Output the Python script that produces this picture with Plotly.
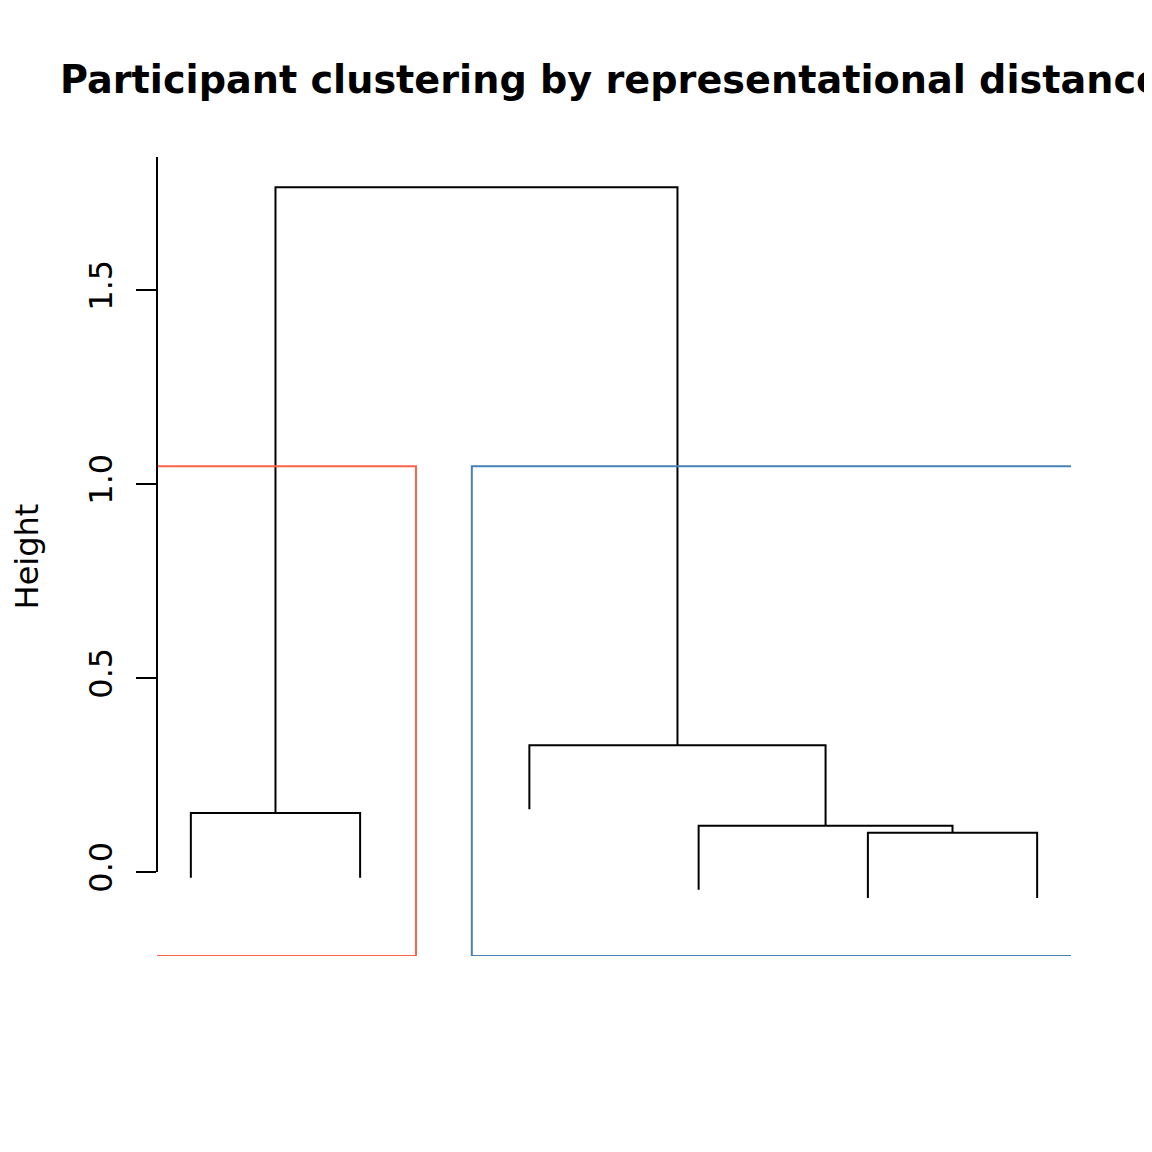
import plotly.graph_objects as go

# dendrogram (hclust style merge table)
leaf_ids = [1, 2, 3, 4, 5, 6]
leaf_bottoms = [-0.015, -0.015, 0.162, -0.046, -0.067, -0.067]
merge_left = [-1, -5, -4, -3, 1]
merge_right = [-2, -6, 2, 3, 4]
merge_height = [0.152, 0.101, 0.119, 0.327, 1.765]

# k = 2 clusters drawn as boxes
cluster_leaves = [[1, 2], [3, 4, 5, 6]]
cluster_colors = ["#FF6347", "#4682B4"]

y_ticks = [0.0, 0.5, 1.0, 1.5]
y_tick_text = ["0.0", "0.5", "1.0", "1.5"]

y_lo, y_hi = -0.2165, 1.843

node_x = {}
node_y = {}
for i, b in zip(leaf_ids, leaf_bottoms):
    node_x[-i] = i
    node_y[-i] = b

fig = go.Figure()

for k, (a, b, h) in enumerate(zip(merge_left, merge_right, merge_height), start=1):
    xa, xb = node_x[a], node_x[b]
    fig.add_trace(go.Scatter(
        x=[xa, xa, xb, xb], y=[node_y[a], h, h, node_y[b]],
        mode="lines", line=dict(color="black", width=2),
        hoverinfo="skip", showlegend=False))
    node_x[k] = (xa + xb) / 2
    node_y[k] = h

# cut height between the last two merges
hs = sorted(merge_height)
cut = (hs[-1] + hs[-2]) / 2
for leaves, col in zip(cluster_leaves, cluster_colors):
    x0 = min(leaves) - 0.34
    x1 = max(leaves) + 0.33
    fig.add_trace(go.Scatter(
        x=[x0, x1, x1, x0, x0], y=[y_lo, y_lo, cut, cut, y_lo],
        mode="lines", line=dict(color=col, width=2),
        hoverinfo="skip", showlegend=False))

# y axis line only spans from 0 to the top like base R
fig.add_shape(type="line", xref="paper", x0=0, x1=0, yref="y", y0=0, y1=y_hi,
              line=dict(color="black", width=2))

# page body adds 8px, so margins are 8px smaller on the left/top
fig.update_layout(
    width=1152, height=1152,
    margin=dict(l=149, r=89, t=149, b=204),
    plot_bgcolor="white", paper_bgcolor="white",
    font=dict(family="DejaVu Sans", color="black"),
    title=dict(text="<b>Participant clustering by representational distance</b>",
               x=0.5 - 3 / 914, xref="paper", xanchor="center",
               y=1 - 72 / 1152, yref="container", yanchor="middle",
               font=dict(size=38.2, family="DejaVu Sans", color="black")),
    xaxis=dict(visible=False, range=[0.8, 6.2]),
    yaxis=dict(range=[y_lo, y_hi], tickvals=y_ticks, ticktext=y_tick_text,
               tickangle=-90, tickfont=dict(size=32), ticks="outside",
               ticklen=20, tickwidth=2, tickcolor="black", ticklabelstandoff=11,
               showline=False, showgrid=False, zeroline=False,
               automargin=False,
               title=dict(text="Height", font=dict(size=32), standoff=38)),
)

fig.write_html("out.html")
